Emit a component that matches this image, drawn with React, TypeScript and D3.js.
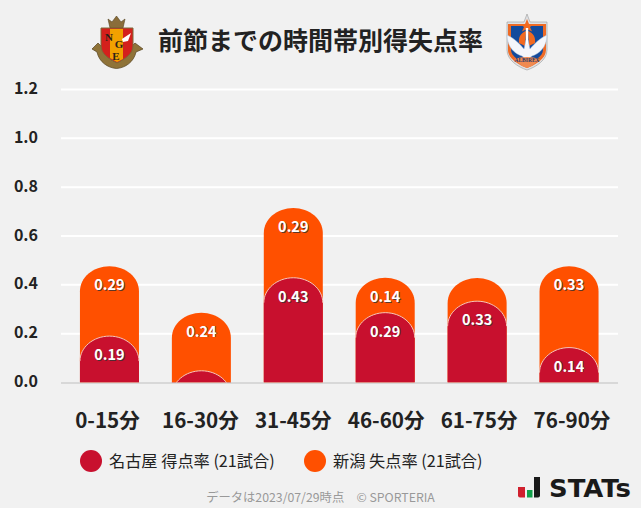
import React from "react";
import * as d3 from "d3";

const categories = ["0-15分", "16-30分", "31-45分", "46-60分", "61-75分", "76-90分"];
const homeValues = [0.19, 0.048, 0.429, 0.286, 0.333, 0.143];
const awayValues = [0.286, 0.238, 0.286, 0.143, 0.095, 0.333];
const homeLabels = ["0.19", "", "0.43", "0.29", "0.33", "0.14"];
const awayLabels = ["0.29", "0.24", "0.29", "0.14", "", "0.33"];
const yTicks = [0, 0.2, 0.4, 0.6, 0.8, 1.0, 1.2];
const titleText = "前節までの時間帯別得失点率";
const homeLegend = "名古屋 得点率 (21試合)";
const awayLegend = "新潟 失点率 (21試合)";
const footer = "データは2023/07/29時点　© SPORTERIA";

const RED = "#c8102e";
const ORANGE = "#ff5000";
const FONT = "'Noto Sans CJK JP', 'Noto Sans', sans-serif";

const y = d3.scaleLinear().domain([0, 1.2]).range([382.5, 89.5]);
const x = d3.scaleBand<string>().domain(categories).range([63.5, 615]).paddingInner(0.358).paddingOuter(0.179);
const xLabel = d3.scalePoint<string>().domain(categories).range([107.5, 572]);

const RY = 25;
function barPath(left: number, w: number, top: number) {
  const rx = w / 2;
  const path = d3.path();
  path.moveTo(left, 382.5);
  path.lineTo(left, top + RY);
  path.bezierCurveTo(left, top + RY * 0.45, left + rx * 0.45, top, left + rx, top);
  path.bezierCurveTo(left + rx * 1.55, top, left + w, top + RY * 0.45, left + w, top + RY);
  path.lineTo(left + w, 382.5);
  path.closePath();
  return path.toString();
}
function arcPath(left: number, w: number, top: number) {
  const rx = w / 2;
  const path = d3.path();
  path.moveTo(left, top + RY);
  path.bezierCurveTo(left, top + RY * 0.45, left + rx * 0.45, top, left + rx, top);
  path.bezierCurveTo(left + rx * 1.55, top, left + w, top + RY * 0.45, left + w, top + RY);
  return path.toString();
}

function Label({ cx, cy, text }: { cx: number; cy: number; text: string }) {
  if (!text) return null;
  return (
    <g fontFamily={FONT} fontSize={14.5} fontWeight={700} textAnchor="middle">
      <text x={cx + 0.8} y={cy + 0.8} fill="#333" opacity={0.8}>{text}</text>
      <text x={cx} y={cy} fill="#fff">{text}</text>
    </g>
  );
}

function NagoyaLogo() {
  return (
    <g>
      <path d="M92 49 L98 43 L103 48 C105 56 110 60 116.5 62 C123 60 128 56 130 48 L135 43 L143 49 L136 52 C134 62 125 68 116.5 68.5 C108 68 99 62 97 52 Z" fill="#8f7338" stroke="#54421f" strokeWidth={0.7} />
      <path d="M110 28 L108 19 L112 22 L116.5 16 L121 22 L125 19 L123 28 Z" fill="#8a6d3a" stroke="#54421f" strokeWidth={0.6} />
      <path d="M101 28 H133 V46 C133 54 125 59 117 63 C109 59 101 54 101 46 Z" fill="#d4201c" stroke="#7a6a3a" strokeWidth={1} />
      <path d="M110 29 H123 V59 L117 62 L110 58 Z" fill="#f2a100" />
      <path d="M122 39 L131 33 L128 41 L123 42 Z" fill="#fff" />
      <g fontFamily="'Liberation Serif', serif" fontWeight={700} fill="#2b2118" textAnchor="middle">
        <text x={109} y={41} fontSize={11}>N</text>
        <text x={119} y={48} fontSize={11}>G</text>
        <text x={116} y={60} fontSize={11}>E</text>
      </g>
    </g>
  );
}

function NiigataLogo() {
  return (
    <g>
      <path d="M507 22 H524 L527 14 L530 22 H547 V50 C547 60 536 67 527 70 C518 67 507 60 507 50 Z" fill="#dfe1e4" stroke="#999" strokeWidth={0.6} />
      <path d="M508 24 H546 V50 C546 59 535 65 527 68 C519 65 508 59 508 50 Z" fill="#ee6a25" />
      <path d="M511 26 H543 V50 C543 56 534 62 527 64 C520 62 511 56 511 50 Z" fill="#134a9c" />
      <path d="M527 19 L529 24 L534 24 L530 27 L532 31.5 L527 29 L522 31.5 L524 27 L520 24 L525 24 Z" fill="#f26a21" />
      <path d="M519 43 C518 35 523 32 526 31 L525 46 Z M535 43 C536 35 531 32 528 31 L529 46 Z" fill="#f26a21" />
      <path d="M507 35 C514 38 520 44 524 49 L526 40 H528 L530 49 C534 44 540 38 547 35 C547 47 539 54 532 56 L527 60 L522 56 C515 54 507 47 507 35 Z" fill="#f4f6fb" stroke="#a9c0dc" strokeWidth={0.5} />
      <rect x={525.8} y={28} width={2.4} height={16} fill="#fff" />
      <path d="M514 59 Q527 55 540 59 L532 66 L527 68 L522 66 Z" fill="#f08a50" />
      <text x={527} y={62} textAnchor="middle" fontFamily="'Liberation Serif', serif" fontWeight={700} fontSize={5.5} fill="#2a3a6a">ALBIREX</text>
    </g>
  );
}

function StatsLogo() {
  return (
    <g>
      <path d="M518 487 H525 V497.5 H520 Q518 497.5 518 495.5 Z" fill="#d0202e" />
      <rect x={527} y={490} width={5.5} height={7.5} fill="#12a14b" />
      <path d="M534 477 H540 V495.5 Q540 497.5 538 497.5 H534 Z" fill="#1a1a1a" />
      <text x={549} y={497} fontFamily="'DejaVu Sans', sans-serif" fontWeight={700} fontSize={24} textLength={82} lengthAdjust="spacingAndGlyphs" fill="#1a1a1a">STATs</text>
    </g>
  );
}

export default function App() {
  const w = x.bandwidth();
  return (
    <svg
      width={641}
      height={508}
      viewBox="0 0 641 508"
      style={{ position: "absolute", left: 0, top: 0, background: "#f1f1f1", display: "block" }}
    >
      <rect width={641} height={508} fill="#f1f1f1" />
      <NagoyaLogo />
      <text x={320.5} y={50} textAnchor="middle" fontFamily={FONT} fontWeight={700} fontSize={25} fill="#222">{titleText}</text>
      <NiigataLogo />

      {yTicks.filter((t) => t > 0).map((t) => (
        <line key={t} x1={61} x2={618} y1={y(t)} y2={y(t)} stroke="#fff" strokeWidth={2} />
      ))}
      <line x1={61} x2={618} y1={383} y2={383} stroke="#d8d8d8" strokeWidth={2} />
      {yTicks.map((t) => (
        <text key={t} x={38} y={y(t) + 4.5} textAnchor="end" fontFamily={FONT} fontWeight={700} fontSize={16} fill="#222">{t.toFixed(1)}</text>
      ))}

      <defs>
        <clipPath id="plot"><rect x={0} y={0} width={641} height={382.5} /></clipPath>
      </defs>
      <g clipPath="url(#plot)">
        {categories.map((c, i) => {
          const left = x(c)!;
          const homeTop = y(homeValues[i]);
          const awayTop = y(homeValues[i] + awayValues[i]);
          return (
            <g key={c}>
              <path d={barPath(left, w, awayTop)} fill={ORANGE} />
              <path d={barPath(left, w, homeTop)} fill={RED} />
              <path d={arcPath(left, w, homeTop)} fill="none" stroke="#f6c6b8" strokeWidth={1} />
            </g>
          );
        })}
      </g>

      {categories.map((c, i) => {
        const cx = x(c)! + w / 2;
        const homeTop = y(homeValues[i]);
        const awayTop = y(homeValues[i] + awayValues[i]);
        return (
          <g key={c}>
            <Label cx={cx} cy={homeTop + 24} text={homeLabels[i]} />
            <Label cx={cx} cy={awayTop + 24} text={awayLabels[i]} />
            <text x={xLabel(c)!} y={428} textAnchor="middle" fontFamily={FONT} fontWeight={700} fontSize={20.6} fill="#222">{c}</text>
          </g>
        );
      })}

      <circle cx={91} cy={461} r={11} fill={RED} />
      <text x={109} y={467} fontFamily={FONT} fontSize={16.2} fill="#222">{homeLegend}</text>
      <circle cx={315} cy={461} r={11} fill={ORANGE} />
      <text x={333} y={467} fontFamily={FONT} fontSize={16.2} fill="#222">{awayLegend}</text>

      <text x={320.5} y={502} textAnchor="middle" fontFamily={FONT} fontSize={12.3} fill="#999">{footer}</text>
      <StatsLogo />
    </svg>
  );
}
